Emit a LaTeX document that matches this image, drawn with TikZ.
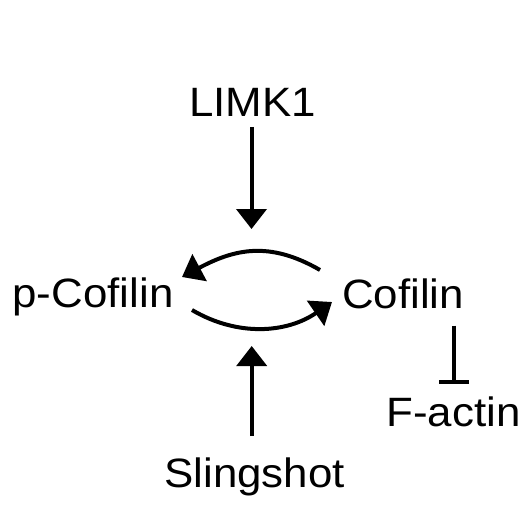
\documentclass[tikz,border=0pt]{standalone}
\usepackage{fontspec}
\usepackage{graphicx}
\setmainfont{Liberation Sans}
\usetikzlibrary{arrows.meta}
\newcommand{\wlbl}[1]{\scalebox{1.07}[1]{#1}}
\tikzset{
  lbl/.style={font=\fontsize{41}{49}\selectfont, inner sep=0pt, anchor=base},
  arr/.style={line width=4pt, -{Triangle[length=20pt,width=30pt]}},
  inh/.style={line width=4pt, -{Bar[width=30pt]}}
}
\begin{document}
\begin{tikzpicture}[x=1pt,y=-1pt]
\useasboundingbox (0,0) rectangle (527,532);
\node[lbl] (limk) at (252.5,116.7) {\wlbl{LIMK1}};
\node[lbl] (pcof) at (93,307.5) {\wlbl{p-Cofilin}};
\node[lbl] (cof) at (403,308) {\wlbl{Cofilin}};
\node[lbl] (fact) at (453.5,426) {\wlbl{F-actin}};
\node[lbl] (sling) at (254.5,487) {\wlbl{Slingshot}};
\coordinate (limktip) at (251.5,229);
\coordinate (slingtip) at (251.7,346);
\coordinate (topA) at (320,270);
\coordinate (topB) at (182,277);
\coordinate (botA) at (192,310);
\coordinate (botB) at (332,302);
\coordinate (cofbar) at (454,384);
\draw[arr, shorten <=10pt] (limk.south -| limktip) -- (limktip);
\draw[arr, shorten <=21pt] (sling.north -| slingtip) -- (slingtip);
\draw[arr] (topA) .. controls (269,240.5) and (234,249.3) .. (topB);
\draw[arr] (botA) .. controls (238,337) and (287,333) .. (botB);
\draw[inh, shorten <=17pt] (cof.south -| cofbar) -- (cofbar);
\end{tikzpicture}
\end{document}
